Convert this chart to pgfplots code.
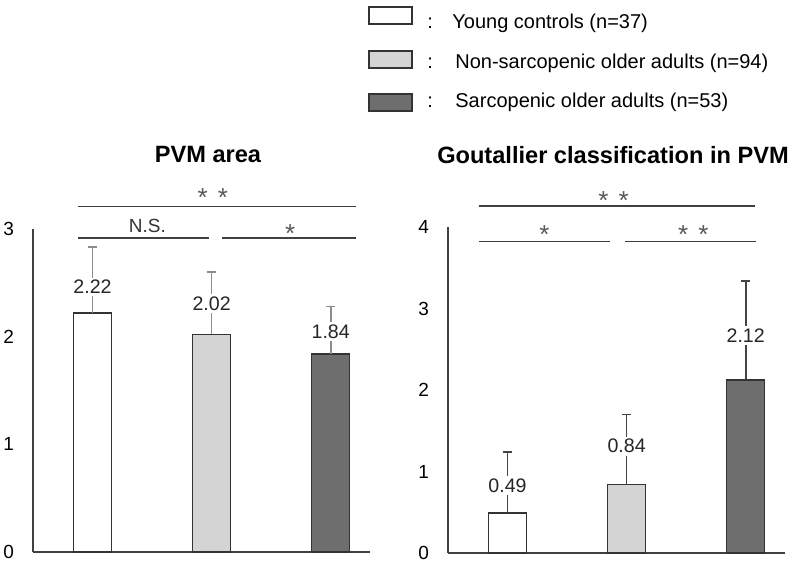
\documentclass[border=0pt]{standalone}
\usepackage{fontspec}
\setmainfont{Liberation Sans}
\usepackage{pgfplots}
\pgfplotsset{compat=1.18}
\usepackage{pgfplotstable}
\definecolor{lgray}{HTML}{D4D4D4}
\definecolor{dgray}{HTML}{6E6E6E}
\definecolor{edge}{HTML}{333333}
\definecolor{axc}{HTML}{404040}
\definecolor{errL}{HTML}{8C8C8C}
\definecolor{errR}{HTML}{444444}

\pgfplotstableread{
x y err laby lab
1 2.22 0.61 2.46 2.22
2 2.02 0.58 2.31 2.02
3 1.84 0.44 2.05 1.84
}\leftdata
\pgfplotstableread{
x y err laby lab
1 0.49 0.75 0.83 0.49
2 0.84 0.86 1.31 0.84
3 2.12 1.22 2.67 2.12
}\rightdata

\tikzset{sigstar/.style={text=black!65, font=\fontsize{13}{14}\selectfont}}
\pgfplotsset{
  mybar/.style={
    scale only axis, clip=false,
    xmin=0.5, xmax=3.33, ymin=0,
    xtick=\empty,
    axis x line=bottom, axis y line=left,
    axis line style={-, draw=axc, line width=0.8pt},
    major tick length=0pt,
    tick label style={font=\fontsize{9.5}{11}\selectfont},
    /pgf/number format/assume math mode=true,
    yticklabel style={xshift=-6pt},
  },
  onebar/.style={ybar, bar width=19pt, bar shift=0pt, draw=edge, line width=0.75pt,
    error bars/y dir=plus, error bars/y explicit},
  errstyle/.style={error bars/error bar style={draw=#1, line width=0.8pt},
    error bars/error mark options={rotate=90, draw=#1, mark size=2.4pt, line width=0.8pt}},
  lablplot/.style={draw=none, mark=none, nodes near coords, point meta=explicit symbolic,
    nodes near coords style={font=\fontsize{9.8}{11}\selectfont, fill=white, inner sep=1.2pt, anchor=center, text=black!85}},
}

\begin{document}
\begin{tikzpicture}
\path[use as bounding box] (0,0) rectangle (400pt,282.5pt);

% ---------- Left chart ----------
\begin{axis}[mybar, at={(16.5pt,6.5pt)}, anchor=origin, width=168.5pt, height=161.5pt,
  ymax=3, ytick={0,1,2,3}]
\addplot[onebar, fill=white, errstyle=errL]
  table[x=x, y=y, y error=err, restrict x to domain=1:1] {\leftdata};
\addplot[onebar, fill=lgray, errstyle=errL]
  table[x=x, y=y, y error=err, restrict x to domain=2:2] {\leftdata};
\addplot[onebar, fill=dgray, errstyle=errL]
  table[x=x, y=y, y error=err, restrict x to domain=3:3] {\leftdata};
\addplot[lablplot] table[x=x, y=laby, meta=lab] {\leftdata};
% significance
\draw[axc, line width=0.8pt] (axis cs:0.874,3.21) -- (axis cs:3.21,3.21);
\draw[axc, line width=0.8pt] (axis cs:0.874,2.915) -- (axis cs:1.98,2.915);
\draw[axc, line width=0.8pt] (axis cs:2.09,2.915) -- (axis cs:3.21,2.915);
\node[sigstar] at (axis cs:2.01,3.29) {*\hspace{5pt}*};
\node[text=black!80, font=\fontsize{9.5}{11}\selectfont] at (axis cs:1.46,3.03) {N.S.};
\node[sigstar] at (axis cs:2.66,2.96) {*};
\end{axis}

% ---------- Right chart ----------
\begin{axis}[mybar, at={(224pt,6pt)}, anchor=origin, width=168.5pt, height=163pt,
  ymax=4, ytick={0,1,2,3,4}]
\addplot[onebar, fill=white, errstyle=errR]
  table[x=x, y=y, y error=err, restrict x to domain=1:1] {\rightdata};
\addplot[onebar, fill=lgray, errstyle=errR]
  table[x=x, y=y, y error=err, restrict x to domain=2:2] {\rightdata};
\addplot[onebar, fill=dgray, errstyle=errR]
  table[x=x, y=y, y error=err, restrict x to domain=3:3] {\rightdata};
\addplot[lablplot] table[x=x, y=laby, meta=lab] {\rightdata};
\draw[axc, line width=0.8pt] (axis cs:0.757,4.26) -- (axis cs:3.08,4.26);
\draw[axc, line width=0.8pt] (axis cs:0.757,3.82) -- (axis cs:1.86,3.82);
\draw[axc, line width=0.8pt] (axis cs:1.99,3.82) -- (axis cs:3.09,3.82);
\node[sigstar] at (axis cs:1.89,4.33) {*\hspace{5pt}*};
\node[sigstar] at (axis cs:1.31,3.91) {*};
\node[sigstar] at (axis cs:2.56,3.91) {*\hspace{5pt}*};
\end{axis}

% ---------- Titles ----------
\node[font=\bfseries\fontsize{11.8}{14}\selectfont] at (104pt,205pt) {PVM area};
\node[font=\bfseries\fontsize{11.8}{14}\selectfont] at (306.5pt,205pt) {Goutallier classification in PVM};

% ---------- Legend ----------
\begin{scope}[font=\fontsize{10}{12}\selectfont]
\draw[edge, line width=0.7pt, fill=white] (184.5pt,270.5pt) rectangle (206pt,279pt);
\draw[edge, line width=0.7pt, fill=lgray] (184.5pt,248.5pt) rectangle (206pt,257pt);
\draw[edge, line width=0.7pt, fill=dgray] (184.5pt,227pt) rectangle (206pt,235.5pt);
\node[anchor=base west, inner sep=0pt] at (213.5pt,268.3pt) {:};
\node[anchor=base west, inner sep=0pt] at (213.5pt,248.3pt) {:};
\node[anchor=base west, inner sep=0pt] at (213.5pt,228.5pt) {:};
\node[anchor=base west, inner sep=0pt] at (226pt,268.3pt) {Young controls (n=37)};
\node[anchor=base west, inner sep=0pt] at (227.5pt,248.3pt) {Non-sarcopenic older adults (n=94)};
\node[anchor=base west, inner sep=0pt] at (227.5pt,228.5pt) {Sarcopenic older adults (n=53)};
\end{scope}
\end{tikzpicture}
\end{document}
